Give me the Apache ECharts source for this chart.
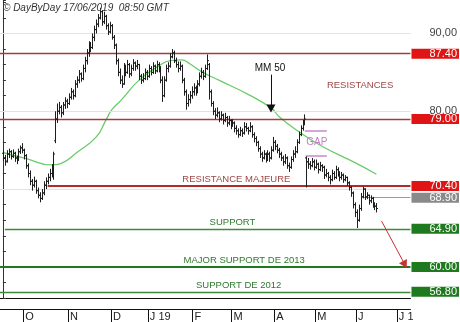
<!DOCTYPE html>
<html><head><meta charset="utf-8">
<script src="https://cdn.jsdelivr.net/npm/echarts@6/dist/echarts.min.js"></script>
<style>html,body{margin:0;padding:0;background:#fff}#c{width:460px;height:322px}</style>
</head><body><div id="c"></div>
<script>
// ---- daily OHLC bars (index 0 = first bar, mid-Sept 2018 ... 17/06/2019) ----
const open = [
74.6,74.0,73.6,74.5,74.8,74.2,74.6,74.0,73.8,74.8,
75.3,75.0,74.3,73.0,72.0,71.0,70.5,71.0,69.8,69.2,
68.8,69.5,70.5,71.0,71.5,72.0,72.5,76.2,79.0,80.0,
80.5,79.8,80.8,81.3,81.0,81.8,82.5,82.0,83.5,84.0,
84.8,84.2,85.5,86.5,87.5,88.5,88.2,89.5,90.5,91.2,
92.0,92.8,91.5,92.2,91.0,90.2,91.0,89.5,88.5,86.5,
85.0,84.0,83.5,85.5,85.0,86.0,84.8,85.5,86.2,85.8,
86.0,84.5,84.0,84.2,85.0,84.5,85.5,85.0,85.8,85.2,
86.0,85.5,84.0,82.0,84.0,85.5,85.8,87.0,87.5,86.5,
86.0,85.5,85.8,84.0,82.5,81.0,81.5,82.0,82.5,83.0,
82.5,83.5,84.5,85.0,84.5,85.5,86.0,82.5,81.0,80.0,
79.5,79.8,79.0,79.5,78.8,79.2,78.5,78.8,78.2,78.5,
77.8,77.5,77.0,77.5,77.2,78.0,77.8,77.5,78.0,77.0,
76.5,76.0,75.2,74.5,74.0,74.5,73.8,74.5,74.0,75.0,
76.0,75.5,75.0,74.5,74.0,73.5,74.0,73.0,72.8,73.8,
74.5,74.8,76.0,77.0,77.8,78.5,74.0,73.5,73.2,73.0,
73.5,72.8,73.2,72.5,73.0,72.8,71.8,72.0,71.5,71.2,
72.0,71.5,72.5,72.0,71.5,71.8,71.2,71.5,70.8,70.2,
69.5,68.0,67.0,66.0,67.5,69.0,70.0,69.0,69.2,68.5,
68.8,68.0,67.8];
const high = [
75.0,74.4,75.0,75.2,75.0,75.1,74.8,74.3,75.2,75.6,
75.9,75.2,74.5,73.3,72.4,71.3,71.6,71.2,70.2,69.6,
70.0,71.0,71.5,72.0,72.6,73.2,74.8,80.0,81.0,81.2,
80.8,81.2,81.8,81.6,82.3,83.0,82.8,84.0,84.5,85.3,
85.0,86.0,87.0,88.0,89.0,88.9,90.0,91.0,91.8,92.5,
93.3,93.0,92.8,92.4,91.3,91.5,91.2,89.8,88.7,86.8,
85.5,84.6,86.2,86.0,86.6,86.2,86.0,86.7,86.4,86.6,
86.1,84.8,84.9,85.5,85.3,86.0,85.8,86.3,86.0,86.5,
86.3,85.8,84.5,84.5,86.0,86.3,87.5,88.0,87.8,86.9,
86.4,86.4,86.0,84.3,82.8,82.2,82.6,83.2,83.6,83.3,
84.0,85.0,85.6,85.3,86.0,87.3,86.2,82.8,81.3,80.4,
80.5,80.0,80.0,79.7,79.8,79.4,79.4,79.0,79.0,78.7,
78.2,77.8,78.0,77.8,78.6,78.5,78.0,78.6,78.2,77.3,
76.8,76.2,75.5,74.8,75.0,74.7,75.0,74.8,75.5,76.7,
76.3,75.8,75.3,74.8,74.3,74.5,74.2,73.4,74.2,75.0,
75.5,76.4,77.4,78.2,78.9,79.6,74.2,74.0,73.6,74.0,
73.8,73.8,73.4,73.5,73.2,73.0,72.6,72.2,71.8,72.5,
72.3,73.0,72.8,72.3,72.2,72.0,71.8,71.6,71.0,70.4,
69.7,68.3,67.4,68.0,69.5,70.3,70.1,69.6,69.3,69.2,
69.0,68.3,68.2];
const low = [
73.6,73.0,73.4,74.0,73.8,74.0,73.5,73.2,73.6,74.5,
74.6,73.8,72.6,71.5,70.5,69.8,70.2,69.4,68.8,68.3,
68.6,69.2,70.0,70.6,71.0,71.5,71.2,75.9,78.5,79.6,
79.2,79.5,80.3,80.4,80.8,81.5,81.5,81.8,83.0,83.6,
83.8,84.0,85.0,86.0,87.0,87.6,88.0,89.0,90.0,90.8,
91.8,91.0,91.2,90.5,89.8,90.0,89.2,88.0,86.0,84.5,
83.5,83.0,83.4,84.5,84.8,84.3,84.5,85.2,85.2,85.4,
84.0,83.5,83.7,84.0,84.0,84.3,84.6,84.8,84.8,85.0,
85.0,83.6,81.2,81.8,83.8,85.0,85.6,86.8,86.2,85.6,
85.0,85.2,83.6,82.0,80.2,80.6,81.0,81.6,82.0,82.0,
82.3,83.2,84.2,84.0,84.3,85.3,81.5,80.6,79.5,79.0,
79.2,78.6,78.8,78.3,78.6,78.0,78.2,77.7,78.0,77.3,
77.0,76.6,76.8,76.7,77.0,77.4,77.0,77.3,76.6,76.0,
75.5,74.8,74.0,73.5,73.8,73.4,73.6,73.5,73.8,74.8,
75.0,74.6,74.0,73.6,73.0,73.2,72.6,72.2,72.6,73.5,
74.0,74.6,75.8,76.8,77.5,78.2,70.2,72.6,72.5,72.8,
72.4,72.6,72.0,72.3,72.2,71.3,71.5,71.0,70.6,71.0,
71.2,71.3,71.6,71.0,71.2,70.8,71.0,70.4,69.8,69.0,
67.5,66.4,65.0,65.8,67.2,68.8,68.6,68.7,68.0,68.2,
67.6,67.3,67.0];
const close = [
74.0,73.5,74.5,74.8,74.2,74.6,74.0,73.8,74.8,75.3,
75.0,74.3,73.0,72.0,71.0,70.5,71.0,69.8,69.2,68.8,
69.5,70.5,71.0,71.5,72.0,72.5,74.5,79.0,80.0,80.5,
79.8,80.8,81.3,81.0,81.8,82.5,82.0,83.5,84.0,84.8,
84.2,85.5,86.5,87.5,88.5,88.2,89.5,90.5,91.2,92.0,
92.8,91.5,92.2,91.0,90.2,91.0,89.5,88.5,86.5,85.0,
84.0,83.5,85.5,85.0,86.0,84.8,85.5,86.2,85.8,86.0,
84.5,84.0,84.2,85.0,84.5,85.5,85.0,85.8,85.2,86.0,
85.5,84.0,82.0,84.0,85.5,85.8,87.0,87.5,86.5,86.0,
85.5,85.8,84.0,82.5,81.0,81.5,82.0,82.5,83.0,82.5,
83.5,84.5,85.0,84.5,85.5,86.5,82.5,81.0,80.0,79.5,
79.8,79.0,79.5,78.8,79.2,78.5,78.8,78.2,78.5,77.8,
77.5,77.0,77.5,77.2,78.0,77.8,77.5,78.0,77.0,76.5,
76.0,75.2,74.5,74.0,74.5,73.8,74.5,74.0,75.0,76.0,
75.5,75.0,74.5,74.0,73.5,74.0,73.0,72.8,73.8,74.5,
74.8,76.0,77.0,77.8,78.5,79.0,73.5,73.2,73.0,73.5,
72.8,73.2,72.5,73.0,72.8,71.8,72.0,71.5,71.2,72.0,
71.5,72.5,72.0,71.5,71.8,71.2,71.5,70.8,70.2,69.5,
68.0,67.0,66.0,67.5,69.0,70.0,69.0,69.2,68.5,68.8,
68.0,67.8,67.5];

// ---- 50-day moving average, read at points along the curve ----
const ma50Idx = [0, 12, 25, 30, 38, 48, 53, 56, 61, 70, 80, 86, 92, 96, 102, 111, 126.5, 138, 142, 152, 164, 181, 192];
const ma50Val = [74.7, 73.9, 73.1, 73.3, 74.7, 76.7, 78.9, 80.2, 81.5, 84.0, 85.8, 86.5, 86.6, 86.1, 85.1, 84.0, 82.1, 80.4, 79.3, 77.4, 75.5, 73.4, 71.9];

// ---- month axis (bar-index boundaries where each month starts) ----
const monthPos = [10.5, 33.5, 55.5, 74.5, 97.5, 117.5, 139.5, 160.5, 181.5, 202.5];
const monthLabels = ['O', 'N', 'D', 'J 19', 'F', 'M', 'A', 'M', 'J', 'J 1'];

// ---- price axis labels and gridlines ----
const yLabelValues = [90, 80];
const gridValues = [60, 70, 80, 90];

// ---- horizontal levels ----
const levelValues = [87.40, 79.00, 70.40, 68.90, 64.90, 60.00, 56.80];
const levelLabels = ['87.40', '79.00', '70.40', '68.90', '64.90', '60.00', '56.80'];
const levelFrom = [-1.5, -1.5, 23, 185, 1, -1.5, -1.5];   // bar index where each line starts
const levelKind = ['res', 'res', 'major', 'last', 'sup', 'supMajor', 'sup'];

// ---- gap zone ----
const gapTop = 77.46, gapBottom = 74.25;

const FONT = 'Arial, "Liberation Sans", sans-serif';
const XMIN = -1.5, XMAX = 209.5;
const styles = {
  res: {line: '#a33c3c', width: 1.3, box: '#e01414'},
  major: {line: '#b22a2a', width: 2.2, box: '#e01414'},
  last: {line: '#9a9a9a', width: 1, box: '#8a8a8a'},
  sup: {line: '#3d8a3d', width: 1.3, box: '#1f7a1f'},
  supMajor: {line: '#1f7a1f', width: 2.2, box: '#1f7a1f'}
};

const ohlcData = close.map((c, i) => [i, open[i], high[i], low[i], c]);
const maData = ma50Idx.map((x, k) => [x, ma50Val[k]]);

const levelLines = levelValues.map((v, k) => {
  const s = styles[levelKind[k]];
  return [
    {coord: [levelFrom[k], v], lineStyle: {color: s.line, width: s.width, type: 'solid'},
     label: {show: true, position: 'end', distance: 1, formatter: levelLabels[k], color: '#fff',
             backgroundColor: s.box, fontSize: 11, fontFamily: FONT, lineHeight: 10, padding: [0, 2, 0, 18]}},
    {coord: [XMAX, v]}
  ];
});

const resColor = '#a04545', supColor = '#2d7a2d';
const annotations = [
  {text: 'RESISTANCES', coord: [183.6, 83.37], color: resColor},
  {text: 'MM 50', coord: [137.3, 85.56], color: '#111'},
  {text: 'GAP', coord: [161.4, 75.98], color: '#c47cc4'},
  {text: 'RESISTANCE MAJEURE', coord: [120.0, 71.2], color: resColor},
  {text: 'SUPPORT', coord: [118.0, 65.7], color: supColor},
  {text: 'MAJOR SUPPORT DE 2013', coord: [124.0, 60.8], color: supColor},
  {text: 'SUPPORT DE 2012', coord: [121.2, 57.6], color: supColor}
];

const chart = echarts.init(document.getElementById('c'), null, {renderer: 'canvas'});
chart.setOption({
  animation: false,
  backgroundColor: '#fff',
  title: {text: '\u00a9 DayByDay 17/06/2019  08:50 GMT', left: 3, top: 3, padding: 0,
          textStyle: {fontSize: 10, fontStyle: 'italic', fontWeight: 'normal', color: '#333', fontFamily: FONT}},
  grid: {left: 0, right: 48, top: 0, bottom: 24, containLabel: false},
  xAxis: [
    {type: 'value', min: XMIN, max: XMAX, position: 'bottom',
     axisLine: {show: true, onZero: false, lineStyle: {color: '#111', width: 1}},
     axisTick: {show: false}, axisLabel: {show: false}, splitLine: {show: false}},
    {type: 'value', min: XMIN, max: XMAX, position: 'bottom', offset: 11,
     axisLine: {show: true, onZero: false, lineStyle: {color: '#111', width: 1}},
     axisTick: {show: true, customValues: monthPos, length: 13, lineStyle: {color: '#111'}},
     axisLabel: {show: true, customValues: monthPos, align: 'left', margin: 2, padding: [0, 0, 0, 2],
                 fontSize: 11, color: '#222', fontFamily: FONT,
                 formatter: v => monthLabels[monthPos.indexOf(v)]},
     splitLine: {show: false}}
  ],
  yAxis: {type: 'value', position: 'right', min: 56, max: 94.3, interval: 2, scale: true,
    axisLine: {show: true, lineStyle: {color: '#333'}},
    axisTick: {show: true, length: 3, lineStyle: {color: '#333'}},
    axisLabel: {customValues: yLabelValues, margin: 19, fontSize: 11, color: '#444', fontFamily: FONT,
                formatter: v => v.toFixed(2).replace('.', ',')},
    splitLine: {show: false}},
  series: [
    {type: 'line', name: 'grid', data: [], z: 1, silent: true,
     markLine: {silent: true, symbol: 'none', label: {show: false},
       lineStyle: {color: '#e2e2e2', width: 1, type: 'solid'},
       data: gridValues.map(v => ({yAxis: v}))}},
    {type: 'line', name: 'levels', data: [], z: 3, silent: true,
     markLine: {silent: true, symbol: 'none', data: levelLines}},
    {type: 'line', name: 'MM 50', data: maData, smooth: 0.5, showSymbol: false, z: 4, silent: true,
     lineStyle: {color: '#6acb6a', width: 1.3}},
    {type: 'custom', name: 'bars', data: ohlcData, z: 5, silent: true,
     encode: {x: 0, y: [1, 2, 3, 4]},
     renderItem: function (params, api) {
       const x = api.value(0);
       const o = api.coord([x, api.value(1)]);
       const h = api.coord([x, api.value(2)]);
       const l = api.coord([x, api.value(3)]);
       const c = api.coord([x, api.value(4)]);
       const px = Math.round(h[0]) + 0.5;
       const st = {stroke: '#1e1e1e', lineWidth: 1};
       return {type: 'group', children: [
         {type: 'line', shape: {x1: px, y1: h[1], x2: px, y2: l[1]}, style: st},
         {type: 'line', shape: {x1: px - 1.5, y1: o[1], x2: px, y2: o[1]}, style: st},
         {type: 'line', shape: {x1: px, y1: c[1], x2: px + 1.5, y2: c[1]}, style: st}
       ]};
     }},
    {type: 'line', name: 'notes', data: [], z: 6, silent: true,
     markLine: {silent: true, symbol: 'none', label: {show: false},
       data: [
         [{coord: [137.8, 84.7], symbol: 'none', lineStyle: {color: '#111', width: 1, type: 'solid'}},
          {coord: [137.8, 80.35], symbol: 'triangle', symbolSize: [9, 8]}],
         [{coord: [194.6, 65.9], symbol: 'none', lineStyle: {color: '#c83232', width: 1, type: 'solid'}},
          {coord: [206.6, 60.3], symbol: 'triangle', symbolSize: [9, 8]}],
         [{coord: [155.2, gapTop], lineStyle: {color: '#c88ac8', width: 1.5, type: 'solid'}},
          {coord: [166.5, gapTop]}],
         [{coord: [155.6, gapBottom], lineStyle: {color: '#c88ac8', width: 1.5, type: 'solid'}},
          {coord: [166.5, gapBottom]}]
       ]},
     markPoint: {silent: true, symbol: 'circle', symbolSize: 1, itemStyle: {color: 'rgba(0,0,0,0)'},
       data: annotations.map(a => ({coord: a.coord,
         label: {show: true, position: 'inside', formatter: a.text, color: a.color,
                 fontSize: a.text === 'MM 50' || a.text === 'GAP' ? 10 : 9.5, fontFamily: FONT}}))}}
  ]
});
</script>
</body></html>
